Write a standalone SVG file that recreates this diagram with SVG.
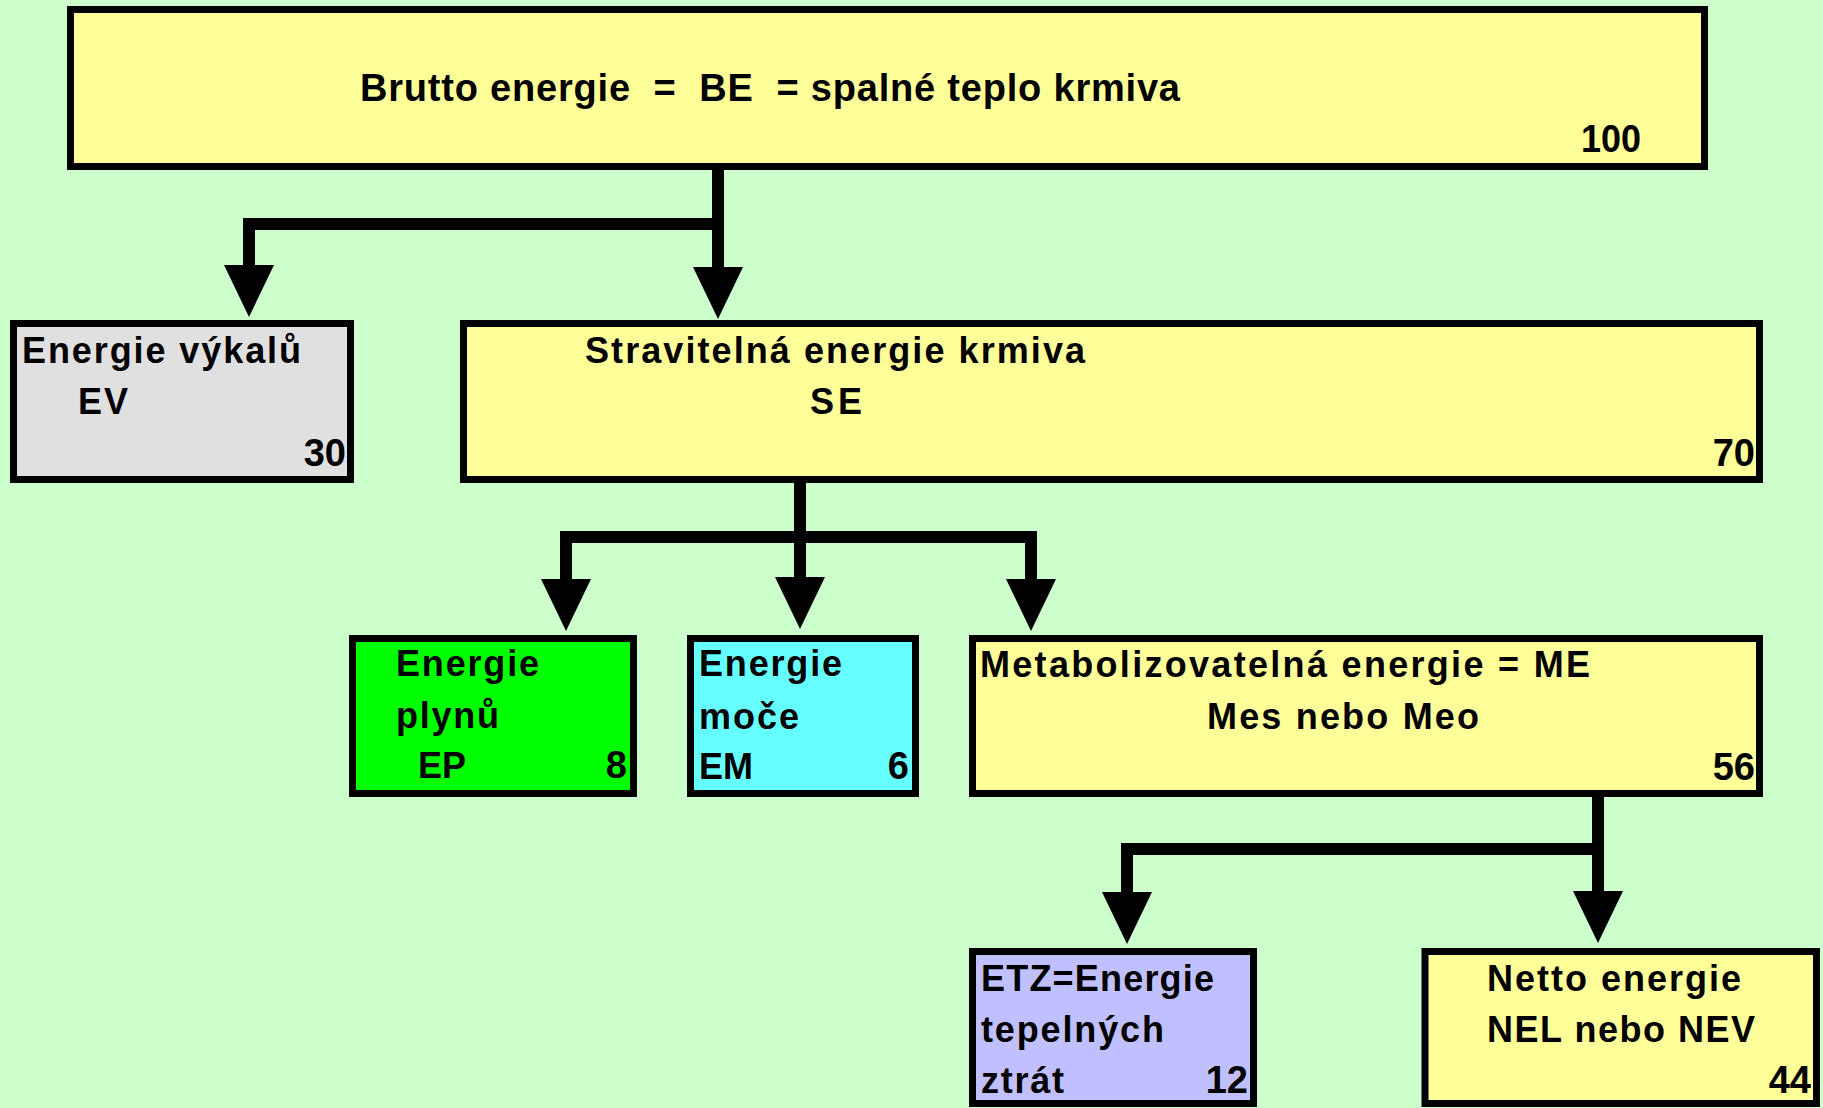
<svg xmlns="http://www.w3.org/2000/svg" width="1823" height="1108" viewBox="0 0 1823 1108">
  <style>
    .box { stroke: #000; stroke-width: 7; }
    .t { font-family: "Liberation Sans", Arial, sans-serif; font-weight: bold; font-size: 36px; fill: #000; }
    .n { font-family: "Liberation Sans", Arial, sans-serif; font-weight: bold; font-size: 38px; fill: #000; text-anchor: end; }
    .big { font-size: 38px; }
    .conn { fill: none; stroke: #000; stroke-width: 12; stroke-linejoin: miter; }
  </style>
  <defs>
    <marker id="ah" markerUnits="userSpaceOnUse" markerWidth="52" markerHeight="50" viewBox="0 0 52 50" refX="1" refY="25" orient="auto-start-reverse">
      <path d="M0,0 L52,25 L0,50 z" fill="#000"/>
    </marker>
  </defs>
  <rect x="0" y="0" width="1823" height="1108" fill="#CCFFCC"/>

  <g id="node-be">
    <rect class="box" x="70.5" y="9.5" width="1634" height="157" fill="#FFFF99"/>
    <text class="t big" x="360" y="101" textLength="820" lengthAdjust="spacing" xml:space="preserve">Brutto energie  =  BE  = spalné teplo krmiva</text>
    <text class="n" x="1641" y="152" textLength="60" lengthAdjust="spacingAndGlyphs">100</text>
  </g>

  <g id="node-ev">
    <rect class="box" x="13.5" y="323.5" width="337" height="156" fill="#E0E0E0"/>
    <text class="t" x="22" y="363" textLength="279" lengthAdjust="spacing">Energie výkalů</text>
    <text class="t" x="78" y="414" textLength="50" lengthAdjust="spacing">EV</text>
    <text class="n" x="346" y="466">30</text>
  </g>

  <g id="node-se">
    <rect class="box" x="463.5" y="323.5" width="1296" height="156" fill="#FFFF99"/>
    <text class="t" x="585" y="363" textLength="500" lengthAdjust="spacing">Stravitelná energie krmiva</text>
    <text class="t" x="810" y="414" textLength="52" lengthAdjust="spacing">SE</text>
    <text class="n" x="1755" y="466">70</text>
  </g>

  <g id="node-ep">
    <rect class="box" x="352.5" y="638.5" width="281" height="155" fill="#00FF00"/>
    <text class="t" x="396" y="676" textLength="143" lengthAdjust="spacing">Energie</text>
    <text class="t" x="396" y="728" textLength="103" lengthAdjust="spacing">plynů</text>
    <text class="t" x="418" y="778" textLength="48" lengthAdjust="spacing">EP</text>
    <text class="n" x="627" y="778">8</text>
  </g>

  <g id="node-em">
    <rect class="box" x="690.5" y="638.5" width="225" height="155" fill="#66FFFF"/>
    <text class="t" x="699" y="676" textLength="143" lengthAdjust="spacing">Energie</text>
    <text class="t" x="699" y="729" textLength="100" lengthAdjust="spacing">moče</text>
    <text class="t" x="699" y="779" textLength="54" lengthAdjust="spacing">EM</text>
    <text class="n" x="909" y="779">6</text>
  </g>

  <g id="node-me">
    <rect class="box" x="972.5" y="638.5" width="787" height="155" fill="#FFFF99"/>
    <text class="t" x="980" y="677" textLength="610" lengthAdjust="spacing">Metabolizovatelná energie = ME</text>
    <text class="t" x="1207" y="729" textLength="272" lengthAdjust="spacing">Mes nebo Meo</text>
    <text class="n" x="1755" y="780">56</text>
  </g>

  <g id="node-etz">
    <rect class="box" x="972.5" y="951.5" width="281" height="152" fill="#C0C0FF"/>
    <text class="t" x="981" y="991" textLength="233" lengthAdjust="spacing">ETZ=Energie</text>
    <text class="t" x="981" y="1042" textLength="183" lengthAdjust="spacing">tepelných</text>
    <text class="t" x="981" y="1093" textLength="83" lengthAdjust="spacing">ztrát</text>
    <text class="n" x="1248" y="1093">12</text>
  </g>

  <g id="node-netto">
    <rect class="box" x="1425" y="951.5" width="391.5" height="152" fill="#FFFF99"/>
    <text class="t" x="1487" y="991" textLength="254" lengthAdjust="spacing">Netto energie</text>
    <text class="t" x="1487" y="1042" textLength="268" lengthAdjust="spacing">NEL nebo NEV</text>
    <text class="n" x="1811" y="1093">44</text>
  </g>

  <g id="connectors">
    <path class="conn" d="M718,166 V268" marker-end="url(#ah)"/>
    <path class="conn" d="M724,224 H249 V266" marker-end="url(#ah)"/>
    <path class="conn" d="M800,477 V578" marker-end="url(#ah)"/>
    <path class="conn" d="M566,580 V537 H1031 V580" marker-start="url(#ah)" marker-end="url(#ah)"/>
    <path class="conn" d="M1598,790 V892" marker-end="url(#ah)"/>
    <path class="conn" d="M1604,849 H1127 V893" marker-end="url(#ah)"/>
  </g>
</svg>
